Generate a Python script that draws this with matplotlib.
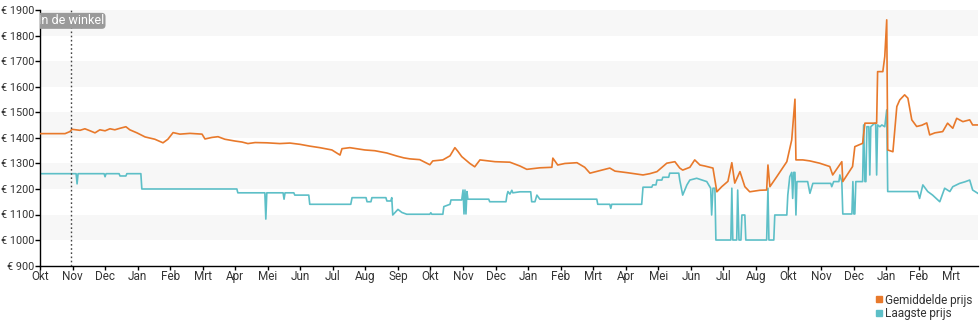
import matplotlib
matplotlib.use("Agg")
import matplotlib.pyplot as plt
from matplotlib.lines import Line2D

plt.rcParams["font.family"] = ["Roboto", "DejaVu Sans"]

# Month labels along the x-axis (one tick per month index)
month_labels = ["Okt", "Nov", "Dec", "Jan", "Feb", "Mrt", "Apr", "Mei", "Jun", "Jul",
                "Aug", "Sep", "Okt", "Nov", "Dec", "Jan", "Feb", "Mrt", "Apr", "Mei",
                "Jun", "Jul", "Aug", "Okt", "Nov", "Dec", "Jan", "Feb", "Mrt"]

# Average price (month index, euro)
avg_months = [0.00, 0.77, 0.92, 0.98, 1.23, 1.38, 1.54, 1.69, 1.84, 2.00, 2.15, 2.30, 2.46,
              2.64, 2.76, 2.98, 3.23, 3.53, 3.78, 3.93, 4.09, 4.30, 4.61, 4.98, 5.07, 5.28,
              5.47, 5.68, 5.99, 6.21, 6.39, 6.61, 6.97, 7.37, 7.68, 7.99, 8.29, 8.60, 8.97,
              9.22, 9.28, 9.52, 9.98, 10.29, 10.66, 10.97, 11.18, 11.37, 11.67, 11.98, 12.07,
              12.38, 12.60, 12.75, 12.84, 12.96, 13.21, 13.36, 13.52, 13.98, 14.44, 14.75,
              14.96, 15.36, 15.73, 15.76, 15.91, 16.13, 16.50, 16.74, 16.90, 17.21, 17.51,
              17.67, 18.04, 18.53, 18.74, 18.96, 19.26, 19.51, 19.66, 19.75, 19.97, 20.12,
              20.28, 20.43, 20.68, 20.80, 20.95, 21.14, 21.26, 21.35, 21.51, 21.66, 21.81,
              22.12, 22.33, 22.37, 22.43, 22.64, 22.95, 23.10, 23.20, 23.23, 23.44, 23.66,
              23.96, 24.27, 24.36, 24.64, 24.67, 24.97, 25.04, 25.28, 25.35, 25.71, 25.74,
              25.90, 25.96, 26.02, 26.05, 26.21, 26.33, 26.42, 26.57, 26.67, 26.79, 26.94,
              27.10, 27.25, 27.34, 27.50, 27.74, 27.89, 28.05, 28.17, 28.36, 28.57, 28.66,
              28.82]
avg_price = [1417, 1417, 1425, 1434, 1430, 1436, 1428, 1420, 1432, 1428, 1436, 1432, 1438,
             1444, 1432, 1420, 1404, 1395, 1381, 1395, 1421, 1415, 1418, 1415, 1396, 1402,
             1405, 1395, 1388, 1384, 1378, 1382, 1381, 1378, 1380, 1375, 1368, 1362, 1353,
             1333, 1358, 1362, 1353, 1350, 1341, 1329, 1322, 1318, 1315, 1295, 1310,
             1314, 1330, 1362, 1348, 1327, 1300, 1287, 1314, 1307, 1305, 1290,
             1277, 1283, 1285, 1321, 1294, 1300, 1303, 1285, 1262, 1272, 1282,
             1270, 1264, 1255, 1260, 1268, 1301, 1307, 1282, 1274, 1285, 1314,
             1294, 1290, 1282, 1189, 1209, 1230, 1303, 1223, 1268, 1209, 1189,
             1195, 1196, 1294, 1209, 1248, 1307, 1392, 1552, 1314, 1314, 1310,
             1301, 1288, 1255, 1307, 1229, 1288, 1366, 1379, 1458, 1458, 1660,
             1660, 1719, 1863, 1353, 1346, 1523, 1549, 1569, 1556, 1471, 1445,
             1450, 1459, 1412, 1420, 1425, 1458, 1438, 1477, 1464, 1471, 1451,
             1451]

# Lowest price (month index, euro)
low_months = [0.00, 1.11, 1.14, 1.17, 1.97, 2.00, 2.03, 2.43, 2.46, 2.64, 2.67, 3.10, 3.13,
              6.05, 6.08, 6.91, 6.94, 6.97, 7.47, 7.50, 7.53, 7.80, 7.83, 8.26, 8.29, 9.55,
              9.59, 10.02, 10.05, 10.17, 10.20, 10.63, 10.66, 10.78, 10.81, 10.84, 11.00,
              11.12, 11.27, 11.98, 12.01, 12.04, 12.38, 12.41, 12.60, 12.63, 12.96, 13.00,
              13.03, 13.06, 13.09, 13.12, 13.15, 13.79, 13.82, 14.32, 14.35, 14.38, 14.44,
              14.50, 14.53, 14.75, 15.08, 15.11, 15.21, 15.27, 15.36, 17.11, 17.14, 17.51,
              17.54, 17.57, 18.49, 18.53, 18.80, 18.83, 18.93, 18.96, 19.11, 19.14, 19.32,
              19.35, 19.63, 19.66, 19.75, 19.88, 19.97, 20.18, 20.49, 20.61, 20.64, 20.68,
              20.74, 20.77, 21.23, 21.26, 21.29, 21.41, 21.44, 21.48, 21.54, 21.57, 21.66,
              21.69, 22.33, 22.37, 22.40, 22.55, 22.58, 22.95, 22.98, 23.04, 23.10, 23.13,
              23.16, 23.20, 23.23, 23.26, 23.59, 23.66, 23.75, 24.30, 24.33, 24.39, 24.55,
              24.58, 24.64, 24.67, 24.95, 24.98, 25.01, 25.04, 25.07, 25.28, 25.31, 25.35,
              25.38, 25.41, 25.47, 25.50, 25.53, 25.65, 25.68, 25.71, 25.74, 25.81, 25.87,
              25.96, 26.02, 26.05, 26.97, 27.03, 27.13, 27.28, 27.43, 27.65, 27.80, 27.96,
              28.05, 28.26, 28.42, 28.57, 28.66, 28.82]
low_price = [1260, 1260, 1220, 1260, 1260, 1248, 1260, 1260, 1251, 1251, 1260, 1260, 1200,
             1200, 1185, 1185, 1082, 1185, 1185, 1160, 1185, 1185, 1176, 1176, 1140, 1140,
             1166, 1166, 1150, 1150, 1166, 1166, 1153, 1153, 1166, 1098, 1120,
             1108, 1101, 1101, 1107, 1101, 1101, 1131, 1140, 1157, 1157, 1196,
             1102, 1196, 1102, 1190, 1160, 1160, 1150, 1150, 1176, 1190, 1180,
             1195, 1185, 1189, 1189, 1150, 1150, 1176, 1160, 1160, 1140, 1140,
             1124, 1140, 1140, 1207, 1207, 1216, 1216, 1235, 1235, 1246, 1246,
             1262, 1262, 1235, 1176, 1216, 1235, 1242, 1229, 1203, 1098, 1203,
             1203, 1000, 1000, 1203, 1000, 1000, 1196, 1000, 1000, 1098, 1098,
             1000, 1000, 1203, 1000, 1000, 1098, 1098, 1176, 1248, 1265, 1163,
             1265, 1265, 1098, 1229, 1229, 1183, 1222, 1222, 1209, 1229, 1229,
             1255, 1229, 1102, 1102, 1229, 1102, 1102, 1229, 1229, 1451, 1229,
             1229, 1444, 1444, 1255, 1444, 1458, 1458, 1255, 1451, 1444, 1451,
             1444, 1510, 1190, 1190, 1163, 1216, 1190, 1176, 1150, 1203, 1190,
             1209, 1222, 1228, 1235, 1196, 1183]

store_month = 0.95
y_ticks = list(range(900, 2000, 100))
shaded_bands = [(1000, 1100), (1200, 1300), (1400, 1500), (1600, 1700), (1800, 1900)]

orange = "#e8792b"
teal = "#5dbfc7"

fig = plt.figure(figsize=(9.8, 3.25), dpi=100)
ax = fig.add_axes([0.0408, 0.183, 0.957, 0.785])

for lo, hi in shaded_bands:
    ax.axhspan(lo, hi, color="#f7f7f7", lw=0, zorder=0)

ax.plot(avg_months, avg_price, color=orange, lw=1.2, zorder=3)
ax.plot(low_months, low_price, color=teal, lw=1.2, zorder=2)

# "In de winkel" marker
ax.axvline(store_month, color="#444444", ls=(0, (1.2, 1.8)), lw=1, zorder=4)
ax.text(store_month, 1859, "In de winkel", ha="center", va="center", fontsize=9,
        color="white", zorder=5, clip_on=True,
        bbox=dict(boxstyle="round,pad=0.12,rounding_size=0.3", fc="#9a9a9a", ec="none"))

ax.set_xlim(0, 28.82)
ax.set_ylim(900, 1900)
ax.set_yticks(y_ticks)
ax.set_yticklabels([f"€ {v}" for v in y_ticks])
ax.set_xticks(range(len(month_labels)))
ax.set_xticklabels(month_labels)

for side in ["top", "right"]:
    ax.spines[side].set_visible(False)
for side in ["left", "bottom"]:
    ax.spines[side].set_color("black")
    ax.spines[side].set_linewidth(1)

ax.tick_params(axis="y", length=3.5, width=1, pad=0.5, labelsize=7.8, labelcolor="#333333")
ax.tick_params(axis="x", length=3, width=1, pad=0.5, labelsize=8.5, labelcolor="#333333")

handles = [Line2D([], [], marker="s", ls="none", color=orange, markersize=5),
           Line2D([], [], marker="s", ls="none", color=teal, markersize=5)]
fig.legend(handles, ["Gemiddelde prijs", "Laagste prijs"], loc="upper right",
           bbox_to_anchor=(0.998, 0.115), frameon=False, fontsize=8.5,
           handlelength=0.6, handletextpad=0.2, labelspacing=0.05, borderpad=0,
           labelcolor="#333333")

fig.savefig("out.png", dpi=100)
